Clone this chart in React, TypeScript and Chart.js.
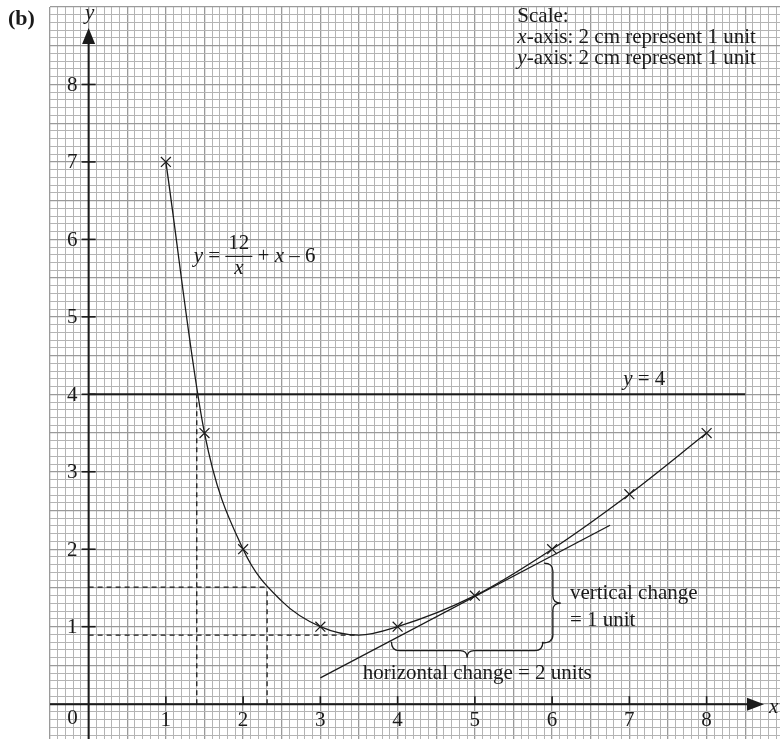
import React, { useEffect, useRef } from 'react';
import Chart from 'chart.js/auto';

// plotted points (crosses)
const markX = [1, 1.5, 2, 3, 4, 5, 6, 7, 8];
const markY = [7, 3.5, 2, 1, 1, 1.4, 2, 2.71, 3.5];
// smooth curve through the points
const curveX = [1, 1.5, 2, 2.5, 3, 3.5, 4, 5, 6, 7, 8];
const curveY = [7, 3.5, 2, 1.33, 1, 0.89, 1, 1.4, 2, 2.71, 3.5];
// tangent at x = 5
const tangentX = [3, 6.75];
const tangentY = [0.34, 2.31];
// horizontal line y = 4
const y4X = [0, 8.5];
const y4Y = [4, 4];
// dashed construction lines
const dashAX = [1.4, 1.4];
const dashAY = [0, 4];
const dashBX = [2.31, 2.31];
const dashBY = [0, 1.51];
const dashCX = [0, 2.31];
const dashCY = [1.51, 1.51];
const dashDX = [0, 3.49];
const dashDY = [0.89, 0.89];
// axis ticks
const xTicks = [1, 2, 3, 4, 5, 6, 7, 8];
const yTicks = [1, 2, 3, 4, 5, 6, 7, 8];
const xTickLabels = ['1', '2', '3', '4', '5', '6', '7', '8'];
const yTickLabels = ['1', '2', '3', '4', '5', '6', '7', '8'];
const originLabel = '0';
const scaleLines = ['Scale:', '-axis: 2 cm represent 1 unit', '-axis: 2 cm represent 1 unit'];

const X_MIN = -0.5, X_MAX = 8.95, Y_MIN = -0.45, Y_MAX = 9.0;
const SERIF = "'Liberation Serif', 'DejaVu Serif', serif";
const FS = 21;

function gridValues(min: number, max: number) {
  const out: { value: number }[] = [];
  for (let i = Math.ceil(min * 10 - 1e-6); i <= Math.floor(max * 10 + 1e-6); i++) out.push({ value: i / 10 });
  return out;
}
function isMajor(v: number) {
  const k = Math.round(v * 10);
  return k % 5 === 0;
}
const pts = (xs: number[], ys: number[]) => xs.map((x, i) => ({ x, y: ys[i] }));

export default function App() {
  const ref = useRef<HTMLCanvasElement | null>(null);
  useEffect(() => {
    if (!ref.current) return;
    const overlay = {
      id: 'overlay',
      beforeDatasetsDraw(chart: any) {
        const ctx = chart.ctx;
        const sx = chart.scales.x, sy = chart.scales.y;
        const px = (v: number) => sx.getPixelForValue(v);
        const py = (v: number) => sy.getPixelForValue(v);
        const ca = chart.chartArea;
        ctx.save();
        ctx.strokeStyle = '#1a1a1a';
        ctx.fillStyle = '#1a1a1a';
        ctx.lineWidth = 2;
        // y axis
        const x0 = px(0), y0 = py(0);
        ctx.beginPath();
        ctx.moveTo(x0, ca.bottom);
        ctx.lineTo(x0, 40);
        ctx.stroke();
        ctx.beginPath();
        ctx.moveTo(x0, 28);
        ctx.lineTo(x0 - 6.5, 44);
        ctx.lineTo(x0 + 6.5, 44);
        ctx.closePath();
        ctx.fill();
        // x axis
        ctx.beginPath();
        ctx.moveTo(ca.left, y0);
        ctx.lineTo(752, y0);
        ctx.stroke();
        ctx.beginPath();
        ctx.moveTo(764, y0);
        ctx.lineTo(747, y0 - 6.5);
        ctx.lineTo(747, y0 + 6.5);
        ctx.closePath();
        ctx.fill();
        // ticks
        ctx.lineWidth = 1.6;
        yTicks.forEach((v) => {
          ctx.beginPath();
          ctx.moveTo(x0 - 7, py(v));
          ctx.lineTo(x0 + 7, py(v));
          ctx.stroke();
        });
        xTicks.forEach((v) => {
          ctx.beginPath();
          ctx.moveTo(px(v), y0 - 8);
          ctx.lineTo(px(v), y0);
          ctx.stroke();
        });
        // tick labels
        ctx.font = `${FS}px ${SERIF}`;
        ctx.textBaseline = 'middle';
        ctx.textAlign = 'right';
        yTicks.forEach((v, i) => ctx.fillText(yTickLabels[i], x0 - 11, py(v) + 1));
        ctx.textAlign = 'center';
        xTicks.forEach((v, i) => ctx.fillText(xTickLabels[i], px(v), y0 + 16));
        ctx.fillText(originLabel, x0 - 16, y0 + 14);
        // axis names
        ctx.font = `italic ${FS}px ${SERIF}`;
        ctx.fillText('y', x0 + 1, 13);
        ctx.textAlign = 'left';
        ctx.fillText('x', 769, y0 + 3);
        ctx.restore();
      },
      afterDatasetsDraw(chart: any) {
        const ctx = chart.ctx;
        const sx = chart.scales.x, sy = chart.scales.y;
        const px = (v: number) => sx.getPixelForValue(v);
        const py = (v: number) => sy.getPixelForValue(v);
        ctx.save();
        ctx.fillStyle = '#1a1a1a';
        ctx.strokeStyle = '#1a1a1a';
        ctx.textBaseline = 'middle';
        ctx.textAlign = 'left';
        const seq = (parts: [string, boolean][], x: number, y: number, size: number) => {
          let cx = x;
          parts.forEach(([t, it]) => {
            ctx.font = `${it ? 'italic ' : ''}${size}px ${SERIF}`;
            ctx.fillText(t, cx, y);
            cx += ctx.measureText(t).width;
          });
          return cx;
        };
        // (b)
        ctx.font = `bold 22px ${SERIF}`;
        ctx.fillText('(b)', 8, 19);
        // scale box
        const sxl = px(5.55);
        seq([[scaleLines[0], false]], sxl, 16, FS);
        seq([['x', true], [scaleLines[1], false]], sxl, 37, FS);
        seq([['y', true], [scaleLines[2], false]], sxl, 58, FS);
        // equation
        const ey = py(5.78);
        const EF = 21;
        let ex = seq([['y', true], [' = ', false]], px(1.36), ey, EF);
        ctx.font = `${EF}px ${SERIF}`;
        const w12 = ctx.measureText('12').width;
        const fw = w12 + 6;
        ctx.textAlign = 'center';
        ctx.fillText('12', ex + fw / 2, ey - 13);
        ctx.font = `italic ${EF}px ${SERIF}`;
        ctx.fillText('x', ex + fw / 2, ey + 12);
        ctx.lineWidth = 1.2;
        ctx.beginPath();
        ctx.moveTo(ex, ey);
        ctx.lineTo(ex + fw, ey);
        ctx.stroke();
        ctx.textAlign = 'left';
        seq([[' + ', false], ['x', true], [' \u2013 6', false]], ex + fw, ey, EF);
        // y = 4
        seq([['y', true], [' = 4', false]], px(6.92), py(4.19), FS);
        // labels
        seq([['horizontal change = 2 units', false]], px(3.55), py(0.39), FS);
        seq([['vertical change', false]], px(6.23), py(1.43), FS);
        seq([['= 1 unit', false]], px(6.23), py(1.08), FS);
        // horizontal brace
        ctx.lineWidth = 1.3;
        const hx1 = px(3.92), hx2 = px(5.88), hy = py(0.69);
        const hxm = (hx1 + hx2) / 2;
        ctx.beginPath();
        ctx.moveTo(hx1, hy - 9);
        ctx.quadraticCurveTo(hx1, hy, hx1 + 8, hy);
        ctx.lineTo(hxm - 7, hy);
        ctx.quadraticCurveTo(hxm, hy, hxm, hy + 7);
        ctx.moveTo(hxm, hy + 7);
        ctx.quadraticCurveTo(hxm, hy, hxm + 7, hy);
        ctx.lineTo(hx2 - 8, hy);
        ctx.quadraticCurveTo(hx2, hy, hx2, hy - 9);
        ctx.stroke();
        // vertical brace
        const vx = px(6.01), vy1 = py(1.82), vy2 = py(0.79);
        const vym = (vy1 + vy2) / 2;
        ctx.beginPath();
        ctx.moveTo(vx - 9, vy1);
        ctx.quadraticCurveTo(vx, vy1, vx, vy1 + 8);
        ctx.lineTo(vx, vym - 7);
        ctx.quadraticCurveTo(vx, vym, vx + 8, vym);
        ctx.moveTo(vx + 8, vym);
        ctx.quadraticCurveTo(vx, vym, vx, vym + 7);
        ctx.lineTo(vx, vy2 - 8);
        ctx.quadraticCurveTo(vx, vy2, vx - 11, vy2);
        ctx.stroke();
        ctx.restore();
      },
    };

    const gridColor = (c: any) => (isMajor(c.tick?.value ?? 0) ? '#9a9a9a' : '#b4b4b4');
    const gridWidth = (c: any) => (isMajor(c.tick?.value ?? 0) ? 1.3 : 1);
    const line = (xs: number[], ys: number[], extra: any = {}) => ({
      type: 'line',
      data: pts(xs, ys),
      borderColor: '#1a1a1a',
      borderWidth: 1.3,
      pointRadius: 0,
      fill: false,
      tension: 0,
      ...extra,
    });

    const chart = new Chart(ref.current, {
      type: 'line',
      data: {
        datasets: [
          line(y4X, y4Y, { borderWidth: 2 }),
          line(dashAX, dashAY, { borderDash: [5, 4], borderWidth: 1.3 }),
          line(dashBX, dashBY, { borderDash: [5, 4], borderWidth: 1.3 }),
          line(dashCX, dashCY, { borderDash: [5, 4], borderWidth: 1.3 }),
          line(dashDX, dashDY, { borderDash: [5, 4], borderWidth: 1.3 }),
          line(curveX, curveY, { cubicInterpolationMode: 'monotone' }),
          line(tangentX, tangentY),
          {
            type: 'scatter',
            data: pts(markX, markY),
            pointStyle: 'crossRot',
            pointRadius: 7,
            pointBorderColor: '#1a1a1a',
            pointBorderWidth: 1.2,
            borderColor: '#1a1a1a',
            showLine: false,
          },
        ] as any,
      },
      options: {
        responsive: false,
        animation: false,
        devicePixelRatio: 1,
        layout: { autoPadding: false, padding: { left: 50, top: 7, right: 0, bottom: 0 } },
        plugins: { legend: { display: false }, tooltip: { enabled: false } },
        scales: {
          x: {
            type: 'linear',
            min: X_MIN,
            max: X_MAX,
            afterBuildTicks: (s: any) => { s.ticks = gridValues(X_MIN, X_MAX); },
            ticks: { display: false },
            grid: { drawTicks: false, color: gridColor, lineWidth: gridWidth },
            border: { display: false },
          },
          y: {
            type: 'linear',
            min: Y_MIN,
            max: Y_MAX,
            afterBuildTicks: (s: any) => { s.ticks = gridValues(Y_MIN, Y_MAX); },
            ticks: { display: false },
            grid: { drawTicks: false, color: gridColor, lineWidth: gridWidth },
            border: { display: false },
          },
        },
      },
      plugins: [overlay],
    } as any);
    return () => chart.destroy();
  }, []);

  return (
    <div style={{ position: 'absolute', left: 0, top: 0, width: 780, height: 739, background: '#fff' }}>
      <canvas ref={ref} width={780} height={739} />
    </div>
  );
}
